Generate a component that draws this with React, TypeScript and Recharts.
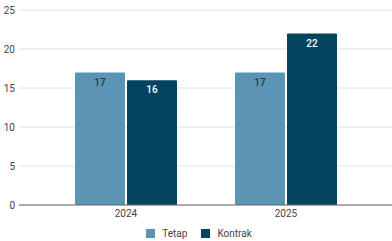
import React from "react";
import { BarChart, Bar, XAxis, YAxis, CartesianGrid, Legend, LabelList } from "recharts";

const categories = ["2024", "2025"];
const tetap = [17, 17];
const kontrak = [16, 22];
const yTicks = [0, 5, 10, 15, 20, 25];
const seriesNames = ["Tetap", "Kontrak"];
const seriesColors = ["#5b95b5", "#03455f"];

const data = categories.map((c, i) => ({ name: c, Tetap: tetap[i], Kontrak: kontrak[i] }));

const LegendContent = () => (
  <div style={{ display: "flex", justifyContent: "center", alignItems: "center", fontSize: 10, color: "#444", paddingLeft: 6 }}>
    {seriesNames.map((n, i) => (
      <div key={n} style={{ display: "flex", alignItems: "center", marginRight: i === 0 ? 14 : 0 }}>
        <span style={{ display: "inline-block", width: 9, height: 9, background: seriesColors[i], marginRight: 7 }} />
        <span>{n}</span>
      </div>
    ))}
  </div>
);

export default function App() {
  return (
    <div style={{ position: "absolute", left: 0, top: 0, fontFamily: "Roboto, Arial, sans-serif" }}>
      <BarChart width={392} height={241} data={data} margin={{ top: 10, right: 0, left: 0, bottom: 0 }} barGap={2} barSize={50}>
        <CartesianGrid vertical={false} stroke="#e2e2e2" />
        <XAxis dataKey="name" padding={{ left: 27, right: 26 }} tickLine={false} tickSize={0} tickMargin={5} height={20}
          axisLine={{ stroke: "#666" }} tick={{ fontSize: 10, fill: "#444" }} />
        <YAxis width={19} domain={[0, 25]} ticks={yTicks} axisLine={false} tickLine={false} tickSize={0} tickMargin={4}
          tick={{ fontSize: 10, fill: "#444" }} />
        <Legend verticalAlign="bottom" height={16} content={<LegendContent />} wrapperStyle={{ bottom: -3 }} />
        <Bar dataKey="Tetap" fill={seriesColors[0]} radius={[1, 1, 0, 0]} isAnimationActive={false}>
          <LabelList dataKey="Tetap" position="insideTop" offset={6} style={{ fontSize: 10, fill: "#1d3a4c", fontWeight: 500 }} />
        </Bar>
        <Bar dataKey="Kontrak" fill={seriesColors[1]} radius={[1, 1, 0, 0]} isAnimationActive={false}>
          <LabelList dataKey="Kontrak" position="insideTop" offset={6} style={{ fontSize: 10, fill: "#fff", fontWeight: 500 }} />
        </Bar>
      </BarChart>
    </div>
  );
}
